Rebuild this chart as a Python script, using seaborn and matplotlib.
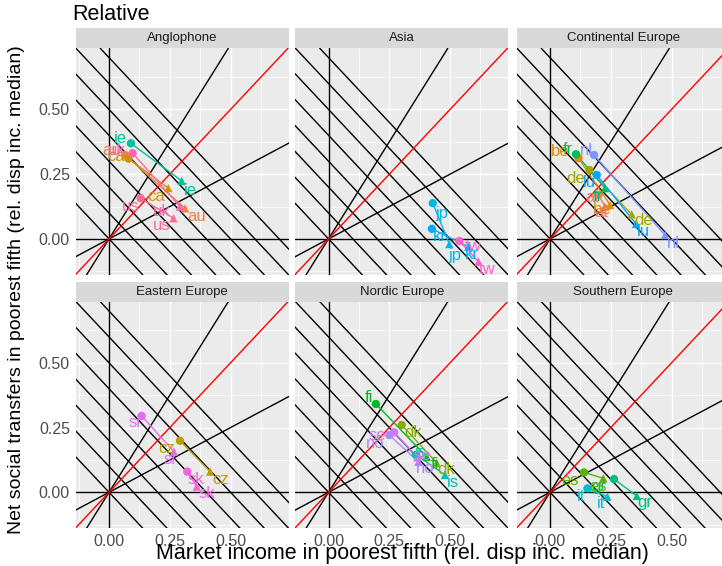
import numpy as np
import pandas as pd
import matplotlib
matplotlib.use("Agg")
import matplotlib.pyplot as plt
import seaborn as sns
from matplotlib.patches import Rectangle

# ---- data -------------------------------------------------------------
regions = ["Anglophone", "Asia", "Continental Europe",
           "Eastern Europe", "Nordic Europe", "Southern Europe"]

countries = ["au", "ca", "ie", "uk", "us",
             "jp", "kr", "tw",
             "at", "be", "de", "fr", "lu", "nl",
             "cz", "si", "sk",
             "dk", "fi", "is", "no", "se",
             "es", "gr", "it"]
country_region = (["Anglophone"] * 5 + ["Asia"] * 3 + ["Continental Europe"] * 6
                  + ["Eastern Europe"] * 3 + ["Nordic Europe"] * 5
                  + ["Southern Europe"] * 3)

# market income and net transfers of the poorest fifth, first and last year
market_first = [0.066, 0.080, 0.090, 0.097, 0.130,
                0.429, 0.425, 0.538,
                0.199, 0.117, 0.162, 0.107, 0.192, 0.181,
                0.292, 0.134, 0.322,
                0.301, 0.195, 0.360, 0.250, 0.270,
                0.140, 0.263, 0.154]
transfers_first = [0.324, 0.310, 0.369, 0.331, 0.157,
                   0.138, 0.039, -0.008,
                   0.170, 0.312, 0.266, 0.327, 0.247, 0.324,
                   0.199, 0.295, 0.080,
                   0.260, 0.341, 0.145, 0.221, 0.232,
                   0.077, 0.051, 0.015]
market_last = [0.313, 0.244, 0.299, 0.292, 0.265,
               0.497, 0.575, 0.617,
               0.226, 0.247, 0.336, 0.226, 0.354, 0.473,
               0.416, 0.267, 0.361,
               0.445, 0.404, 0.479, 0.370, 0.365,
               0.219, 0.357, 0.236]
transfers_last = [0.118, 0.196, 0.224, 0.125, 0.080,
                  -0.020, -0.030, -0.088,
                  0.125, 0.131, 0.095, 0.196, 0.058, 0.015,
                  0.080, 0.157, 0.022,
                  0.114, 0.137, 0.067, 0.118, 0.135,
                  0.054, -0.014, -0.017]

# reference lines: rays through the origin and iso-disposable-income lines
ray_slopes = [0.5, 1.5]
parity_slope = 1.0
iso_levels = [0.0, 0.1, 0.2, 0.3, 0.4, 0.5, 0.6, 0.7]
tick_values = [0.0, 0.25, 0.5]
tick_labels = ["0.00", "0.25", "0.50"]
minor_values = [-0.125, 0.125, 0.375, 0.625]

# label placement (pixel offsets of each code from its marker)
label_nudge = {
    "au": ((-13, 4), (12, -8)), "ca": ((-12, 2), (-12, -8)),
    "ie": ((-11, 5), (9, -10)), "uk": ((-16, 3), (-18, -5)),
    "us": ((-10, -8), (-12, -7)),
    "jp": ((9, -10), (6, -11)), "kr": ((8, -8), (4, -8)),
    "tw": ((14, -6), (9, -8)),
    "at": ((-6, -3), (-4, -6)), "be": ((-18, 7), (-8, -5)),
    "de": ((-14, -8), (12, -6)), "fr": ((-8, 5), (-7, -8)),
    "lu": ((-7, -8), (7, -8)), "nl": ((-8, 4), (8, -8)),
    "si": ((-7, -7), (-4, -8)), "cz": ((-13, -8), (10, -8)),
    "sk": ((9, -8), (10, -7)),
    "fi": ((-7, 6), (8, -8)), "dk": ((11, -8), (9, -7)),
    "no": ((-14, -8), (7, -7)), "se": ((-17, -3), (5, 2)),
    "is": ((5, 2), (8, -8)),
    "es": ((-14, -8), (-5, -8)), "gr": ((-15, -7), (8, -7)),
    "it": ((-6, -8), (-6, -7)),
}

df = pd.concat([
    pd.DataFrame({"country": countries, "region": country_region,
                  "period": "first", "market": market_first,
                  "transfers": transfers_first}),
    pd.DataFrame({"country": countries, "region": country_region,
                  "period": "last", "market": market_last,
                  "transfers": transfers_last}),
], ignore_index=True)


# ---- ggplot-like hue palette (HCL, l=65, c=100) --------------------------
def hue_palette(n, l=65.0, c=100.0):
    hues = np.linspace(15, 375, n + 1)[:n]
    Xn, Yn, Zn = 95.047, 100.0, 108.883
    un = 4 * Xn / (Xn + 15 * Yn + 3 * Zn)
    vn = 9 * Yn / (Xn + 15 * Yn + 3 * Zn)
    out = []
    for h in hues:
        u = c * np.cos(np.radians(h))
        v = c * np.sin(np.radians(h))
        Y = Yn * ((l + 16) / 116) ** 3
        up = u / (13 * l) + un
        vp = v / (13 * l) + vn
        X = Y * 9 * up / (4 * vp)
        Z = Y * (12 - 3 * up - 20 * vp) / (4 * vp)
        X, Y, Z = X / 100, Y / 100, Z / 100
        rgb = np.array([3.2406 * X - 1.5372 * Y - 0.4986 * Z,
                        -0.9689 * X + 1.8758 * Y + 0.0415 * Z,
                        0.0557 * X - 0.2040 * Y + 1.0570 * Z])
        rgb = np.where(rgb > 0.0031308,
                       1.055 * np.clip(rgb, 0, None) ** (1 / 2.4) - 0.055,
                       12.92 * rgb)
        out.append(tuple(np.clip(rgb, 0, 1)))
    return out


levels = sorted(countries)
palette = dict(zip(levels, hue_palette(len(levels))))

# ---- figure -------------------------------------------------------------
sns.set_theme(style="darkgrid", rc={
    "axes.facecolor": "#EBEBEB",
    "grid.color": "white",
    "axes.edgecolor": "none",
})
plt.rcParams["font.family"] = ["Liberation Sans", "DejaVu Sans"]

W, H = 722, 566
fig = plt.figure(figsize=(W / 100, H / 100), dpi=100)
fig.patch.set_facecolor("white")

xlim = (-0.138, 0.74)
ylim = (-0.139, 0.736)
col_left = [75.5, 295.0, 516.5]
row_top = [48.3, 301.7]
pw, ph = 213.4, 226.6
strip_h = 20.0

for i, region in enumerate(regions):
    r, cidx = divmod(i, 3)
    l, t = col_left[cidx], row_top[r]
    ax = fig.add_axes([l / W, 1 - (t + ph) / H, pw / W, ph / H])
    ax.set_xlim(*xlim)
    ax.set_ylim(*ylim)

    ax.set_xticks(tick_values)
    ax.set_yticks(tick_values)
    ax.set_xticks(minor_values, minor=True)
    ax.set_yticks(minor_values, minor=True)
    ax.grid(which="major", color="white", linewidth=1.0)
    ax.grid(which="minor", color="white", linewidth=0.5)
    ax.set_axisbelow(True)

    # reference lines
    ax.axvline(0, color="black", lw=1.0, zorder=1)
    ax.axhline(0, color="black", lw=1.0, zorder=1)
    for s in ray_slopes:
        ax.axline((0, 0), slope=s, color="black", lw=1.0, zorder=1)
    for c in iso_levels:
        ax.axline((0, c), slope=-1, color="black", lw=1.0, zorder=1)
    ax.axline((0, 0), slope=parity_slope, color="red", lw=1.0, zorder=1)

    sub = df[df["region"] == region]
    sns.lineplot(data=sub, x="market", y="transfers", hue="country",
                 units="country", estimator=None, sort=False,
                 palette=palette, legend=False, linewidth=1.0, ax=ax,
                 zorder=3)
    sns.scatterplot(data=sub, x="market", y="transfers", hue="country",
                    style="period", markers={"first": "o", "last": "^"},
                    palette=palette, legend=False, s=36, linewidth=0,
                    ax=ax, zorder=4)

    for _, row in sub.iterrows():
        k = 0 if row["period"] == "first" else 1
        dx, dy = label_nudge[row["country"]][k]
        ax.annotate(row["country"], (row["market"], row["transfers"]),
                    xytext=(dx * 0.72, dy * 0.72), textcoords="offset points",
                    ha="center", va="center", fontsize=12,
                    color=palette[row["country"]], zorder=5)

    # facet strip
    ax.add_patch(Rectangle((0, 1), 1, strip_h / ph, transform=ax.transAxes,
                           clip_on=False, facecolor="#D9D9D9",
                           edgecolor="none", zorder=0))
    ax.text(0.5, 1 + strip_h / ph / 2, region, transform=ax.transAxes,
            ha="center", va="center", fontsize=9.5, color="#1A1A1A")

    ax.set_xlabel("")
    ax.set_ylabel("")
    ax.tick_params(which="minor", length=0)
    ax.tick_params(which="major", length=2.5, width=0.8, color="#333333",
                   labelsize=11.5, labelcolor="#4D4D4D", pad=1.5)
    if r == 1:
        ax.set_xticklabels(tick_labels)
    else:
        ax.tick_params(axis="x", length=0, labelbottom=False)
    if cidx == 0:
        ax.set_yticklabels(tick_labels)
    else:
        ax.tick_params(axis="y", length=0, labelleft=False)

fig.text(72 / W, 1 - 14 / H, "Relative", ha="left", va="center",
         fontsize=15.5, color="black")
fig.text(402 / W, 1 - 554 / H,
         "Market income in poorest fifth (rel. disp inc. median)",
         ha="center", va="center", fontsize=15.5, color="black")
fig.text(17 / W, 1 - 290 / H,
         "Net social transfers in poorest fifth (rel. disp inc. median)",
         ha="center", va="center", rotation=90, fontsize=14, color="black")

fig.savefig("out.png", dpi=100)
